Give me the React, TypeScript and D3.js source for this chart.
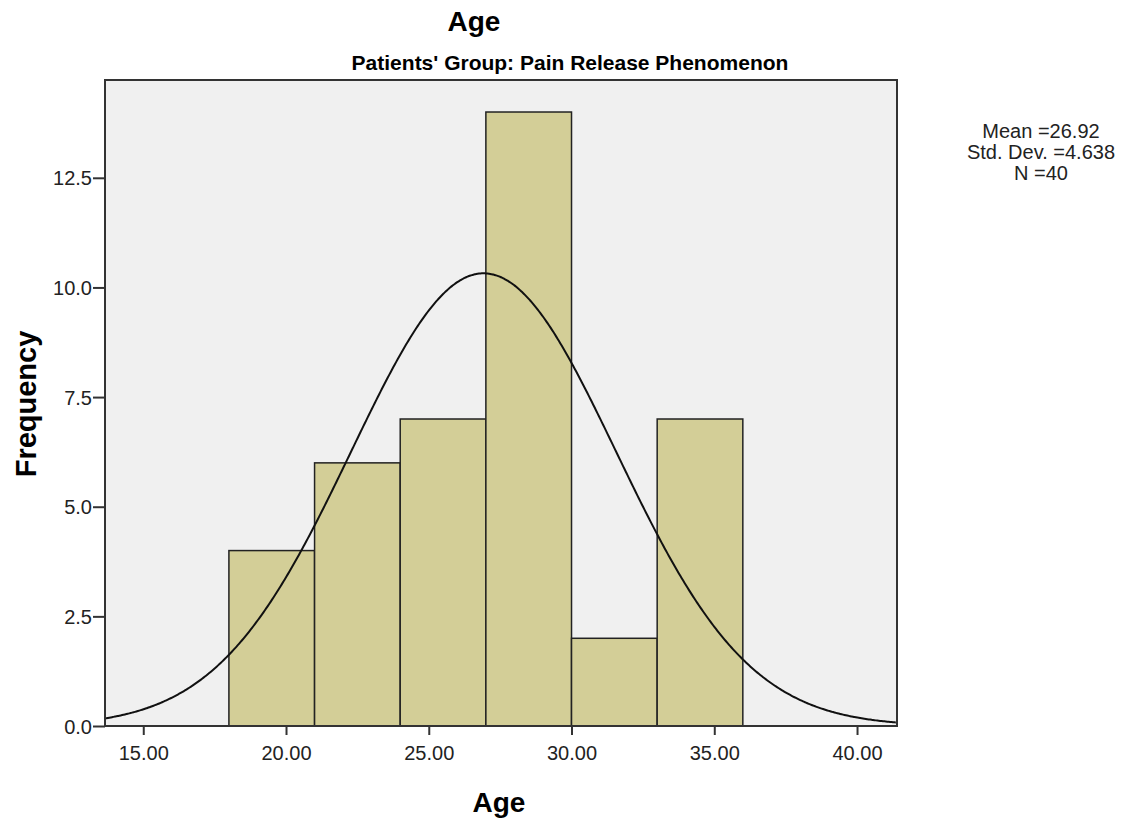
import * as d3 from 'd3';
import { useEffect, useRef } from 'react';

// histogram bins (age) and counts
const binStarts = [18, 21, 24, 27, 30, 33];
const binWidth = 3;
const counts = [4, 6, 7, 14, 2, 7];
const xTicks = [15, 20, 25, 30, 35, 40];
const yTicks = [0, 2.5, 5, 7.5, 10, 12.5];
const stats = ['Mean =26.92', 'Std. Dev. =4.638', 'N =40'];
const mean = 26.92;
const sd = 4.638;
const n = 40;

export default function App() {
    const ref = useRef<HTMLDivElement>(null);

    useEffect(() => {
        const width = 1129;
        const height = 821;
        const plot = { left: 105, right: 897, top: 80, bottom: 726 };
        const font = 'Liberation Sans, Arial, sans-serif';

        const svg = d3
            .create('svg')
            .attr('width', width)
            .attr('height', height)
            .style('display', 'block');

        svg.append('rect').attr('width', width).attr('height', height).attr('fill', '#fff');

        const x = d3.scaleLinear().domain([13.66, 41.4]).range([plot.left, plot.right]);
        const y = d3.scaleLinear().domain([0, 14.73]).range([plot.bottom, plot.top]);

        // plot background
        svg.append('rect')
            .attr('x', plot.left)
            .attr('y', plot.top)
            .attr('width', plot.right - plot.left)
            .attr('height', plot.bottom - plot.top)
            .attr('fill', '#f0f0f0');

        // bars
        svg.selectAll('rect.bar')
            .data(counts)
            .join('rect')
            .attr('class', 'bar')
            .attr('x', (d, i) => x(binStarts[i]))
            .attr('y', d => y(d))
            .attr('width', (d, i) => x(binStarts[i] + binWidth) - x(binStarts[i]))
            .attr('height', d => y(0) - y(d))
            .attr('fill', '#d3ce97')
            .attr('stroke', '#222')
            .attr('stroke-width', 1.5);

        // normal curve scaled to counts
        const curveX = d3.range(13.66, 41.41, 0.05);
        const pdf = (v: number) => n * binWidth * Math.exp(-0.5 * ((v - mean) / sd) ** 2) / (sd * Math.sqrt(2 * Math.PI));
        const line = d3.line<number>().x(v => x(v)).y(v => y(pdf(v))).curve(d3.curveBasis);
        svg.append('path')
            .datum(curveX)
            .attr('d', line)
            .attr('fill', 'none')
            .attr('stroke', '#111')
            .attr('stroke-width', 2);

        // frame
        svg.append('rect')
            .attr('x', plot.left)
            .attr('y', plot.top)
            .attr('width', plot.right - plot.left)
            .attr('height', plot.bottom - plot.top)
            .attr('fill', 'none')
            .attr('stroke', '#333')
            .attr('stroke-width', 2);

        // axes
        const xAxis = d3.axisBottom(x).tickValues(xTicks).tickFormat(d3.format('.2f')).tickSize(9).tickSizeOuter(0);
        const gx = svg.append('g').attr('transform', `translate(0,${plot.bottom})`).call(xAxis);
        gx.select('.domain').remove();
        gx.selectAll('line').attr('stroke', '#333').attr('stroke-width', 2);
        gx.selectAll('text')
            .attr('font-family', font)
            .attr('font-size', 20)
            .attr('fill', '#222')
            .attr('dy', '1.1em');

        const yAxis = d3.axisLeft(y).tickValues(yTicks).tickFormat(d3.format('.1f')).tickSize(12).tickSizeOuter(0);
        const gy = svg.append('g').attr('transform', `translate(${plot.left},0)`).call(yAxis);
        gy.select('.domain').remove();
        gy.selectAll('line').attr('stroke', '#333').attr('stroke-width', 2);
        gy.selectAll('text')
            .attr('font-family', font)
            .attr('font-size', 20)
            .attr('fill', '#222')
            .attr('x', -13)
            .attr('dy', '0.35em');

        // titles
        svg.append('text')
            .attr('x', 474)
            .attr('y', 31)
            .attr('text-anchor', 'middle')
            .attr('font-family', font)
            .attr('font-weight', 'bold')
            .attr('font-size', 28)
            .text('Age');

        svg.append('text')
            .attr('x', 570)
            .attr('y', 70)
            .attr('text-anchor', 'middle')
            .attr('font-family', font)
            .attr('font-weight', 'bold')
            .attr('font-size', 21)
            .text("Patients' Group: Pain Release Phenomenon");

        svg.append('text')
            .attr('x', 499)
            .attr('y', 812)
            .attr('text-anchor', 'middle')
            .attr('font-family', font)
            .attr('font-weight', 'bold')
            .attr('font-size', 28)
            .text('Age');

        svg.append('text')
            .attr('transform', `translate(36,404) rotate(-90)`)
            .attr('text-anchor', 'middle')
            .attr('font-family', font)
            .attr('font-weight', 'bold')
            .attr('font-size', 29)
            .text('Frequency');

        // stats box
        svg.append('g')
            .selectAll('text')
            .data(stats)
            .join('text')
            .attr('x', 1041)
            .attr('y', (d, i) => 138 + i * 21)
            .attr('text-anchor', 'middle')
            .attr('font-family', font)
            .attr('font-size', 20)
            .attr('fill', '#222')
            .text(d => d);

        ref.current?.replaceChildren(svg.node()!);
    }, []);

    return <div ref={ref} style={{ position: 'absolute', left: 0, top: 0 }}></div>;
}
